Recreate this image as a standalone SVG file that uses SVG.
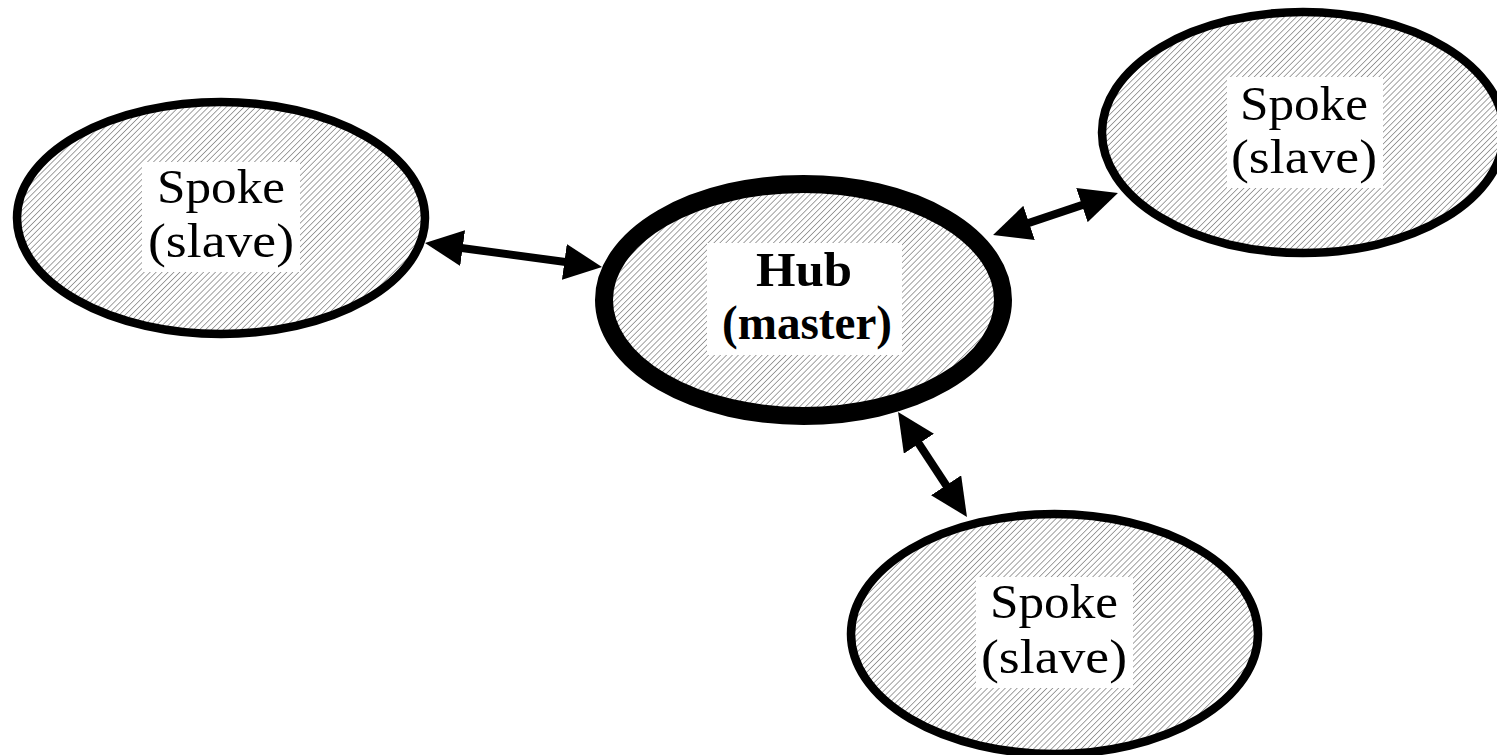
<svg xmlns="http://www.w3.org/2000/svg" width="1497" height="755" viewBox="0 0 1497 755">
  <defs>
    <!-- diagonal hatch fill used by every ellipse -->
    <pattern id="hatch" width="4.2" height="4.2" patternUnits="userSpaceOnUse" patternTransform="rotate(45)">
      <rect width="4.2" height="4.2" fill="#ffffff"/>
      <line x1="0" y1="0" x2="0" y2="4.2" stroke="#333" stroke-width="0.9"/>
    </pattern>
    <!-- solid triangular arrowhead, tip placed at the true end of the link -->
    <marker id="head" viewBox="0 0 38 36" markerUnits="userSpaceOnUse" markerWidth="38" markerHeight="36" refX="18" refY="18" orient="auto-start-reverse">
      <path d="M0,0 L38,18 L0,36 Z" fill="#000"/>
    </marker>
    <style>
      .node { fill: url(#hatch); stroke: #000; }
      .spoke { stroke-width: 8.5; }
      .hub { stroke-width: 18; }
      .label-bg { fill: #fff; }
      .label { font-family: "Liberation Serif", "Times New Roman", serif; font-size: 48px; fill: #000; text-anchor: middle; }
      .bold { font-weight: bold; }
      .link { stroke: #000; stroke-width: 8; fill: none; marker-start: url(#head); marker-end: url(#head); }
    </style>
  </defs>

  <rect width="1497" height="755" fill="#fff"/>

  <g id="spoke-left">
    <ellipse class="node spoke" cx="221" cy="218" rx="204" ry="116"/>
    <rect class="label-bg" x="142" y="162" width="158" height="110"/>
    <text class="label" x="221" y="203" textLength="128" lengthAdjust="spacingAndGlyphs">Spoke</text>
    <text class="label" x="221" y="257" textLength="146" lengthAdjust="spacingAndGlyphs">(slave)</text>
  </g>

  <g id="hub">
    <ellipse class="node hub" cx="803.5" cy="300" rx="199.5" ry="116"/>
    <rect class="label-bg" x="707" y="243" width="195" height="112"/>
    <text class="label bold" x="804" y="286" textLength="96" lengthAdjust="spacingAndGlyphs">Hub</text>
    <text class="label bold" x="807" y="339" textLength="170" lengthAdjust="spacingAndGlyphs">(master)</text>
  </g>

  <g id="spoke-top-right">
    <ellipse class="node spoke" cx="1303" cy="132.5" rx="201" ry="120.5"/>
    <rect class="label-bg" x="1227" y="77" width="156" height="111"/>
    <text class="label" x="1304" y="120" textLength="128" lengthAdjust="spacingAndGlyphs">Spoke</text>
    <text class="label" x="1304" y="173" textLength="146" lengthAdjust="spacingAndGlyphs">(slave)</text>
  </g>

  <g id="spoke-bottom">
    <ellipse class="node spoke" cx="1054.5" cy="634" rx="203.5" ry="120"/>
    <rect class="label-bg" x="976" y="577" width="157" height="111"/>
    <text class="label" x="1054" y="618" textLength="128" lengthAdjust="spacingAndGlyphs">Spoke</text>
    <text class="label" x="1054" y="673" textLength="146" lengthAdjust="spacingAndGlyphs">(slave)</text>
  </g>

  <g id="connectors">
    <line class="link" x1="444.8" y1="245.7" x2="582.2" y2="264.3"/>
    <line class="link" x1="1012" y1="228.6" x2="1099" y2="199.4"/>
    <line class="link" x1="909" y1="428.7" x2="956" y2="500.3"/>
  </g>
</svg>
